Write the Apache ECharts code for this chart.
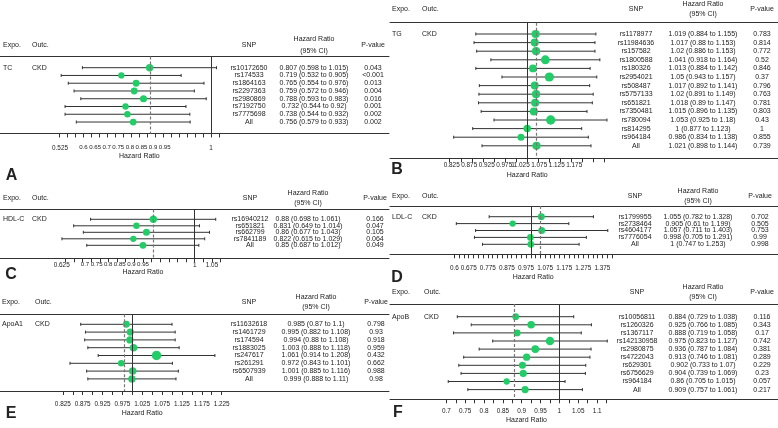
<!DOCTYPE html>
<html><head><meta charset="utf-8">
<script src="https://cdn.jsdelivr.net/npm/echarts@6/dist/echarts.min.js"></script>
<style>html,body{margin:0;padding:0;background:#fff}#c{width:778px;height:428px}</style>
</head><body><div id="c"></div>
<script>
// ---------------- DATA ----------------
const expoA = "TC", outcA = "CKD";
const snpA = ["rs10172650","rs174533","rs1864163","rs2297363","rs2980869","rs7192750","rs7775698","All"];
const hrA = [0.807,0.719,0.765,0.759,0.788,0.732,0.738,0.756];
const loA = [0.598,0.532,0.554,0.572,0.593,0.544,0.544,0.579];
const hiA = [1.015,0.905,0.976,0.946,0.983,0.92,0.932,0.933];
const pA = ["0.043","<0.001","0.013","0.004","0.016","0.001","0.002","0.002"];
const ticksA = ["0.525","0.6","0.65","0.7","0.75","0.8","0.85","0.9","0.95","1"];

const expoB = "TG", outcB = "CKD";
const snpB = ["rs1178977","rs11984636","rs157582","rs1800588","rs180326","rs2954021","rs508487","rs5757133","rs651821","rs7350481","rs780094","rs814295","rs964184","All"];
const hrB = [1.019,1.017,1.02,1.041,1.013,1.05,1.017,1.02,1.018,1.015,1.053,1,0.986,1.021];
const loB = [0.884,0.88,0.886,0.918,0.884,0.943,0.892,0.891,0.89,0.896,0.925,0.877,0.834,0.898];
const hiB = [1.155,1.153,1.153,1.164,1.142,1.157,1.141,1.149,1.147,1.135,1.18,1.123,1.138,1.144];
const pB = ["0.783","0.814","0.772","0.52","0.846","0.37","0.796","0.763","0.781","0.803","0.43","1","0.855","0.739"];
const ticksB = ["0.825","0.875","0.925","0.975","1","1.025","1.075","1.125","1.175"];

const expoC = "HDL-C", outcC = "CKD";
const snpC = ["rs16940212","rs651821","rs662799","rs7841189","All"];
const hrC = [0.88,0.831,0.86,0.822,0.85];
const loC = [0.698,0.649,0.677,0.615,0.687];
const hiC = [1.061,1.014,1.043,1.029,1.012];
const pC = ["0.166","0.047","0.105","0.064","0.049"];
const ticksC = ["0.625","0.7","0.75","0.8","0.85","0.9","0.95","1","1.05"];

const expoD = "LDL-C", outcD = "CKD";
const snpD = ["rs1799955","rs2738464","rs4604177","rs7776054","All"];
const hrD = [1.055,0.905,1.057,0.998,1];
const loD = [0.782,0.61,0.711,0.705,0.747];
const hiD = [1.328,1.199,1.403,1.291,1.253];
const pD = ["0.702","0.505","0.753","0.99","0.998"];
const ticksD = ["0.6","0.675","0.775","0.875","0.975","1.075","1.175","1.275","1.375"];

const expoE = "ApoA1", outcE = "CKD";
const snpE = ["rs11632618","rs1461729","rs174594","rs1883025","rs247617","rs261291","rs6507939","All"];
const hrE = [0.985,0.995,0.994,1.003,1.061,0.972,1.001,0.999];
const loE = [0.87,0.882,0.88,0.888,0.914,0.843,0.885,0.888];
const hiE = [1.1,1.108,1.108,1.118,1.208,1.101,1.116,1.11];
const pE = ["0.798","0.93","0.918","0.959","0.432","0.662","0.988","0.98"];
const ticksE = ["0.825","0.875","0.925","0.975","1.025","1.075","1.125","1.175","1.225"];

const expoF = "ApoB", outcF = "CKD";
const snpF = ["rs10056811","rs1260326","rs1367117","rs142130958","rs2980875","rs4722043","rs629301","rs6756629","rs964184","All"];
const hrF = [0.884,0.925,0.888,0.975,0.936,0.913,0.902,0.904,0.86,0.909];
const loF = [0.729,0.766,0.719,0.823,0.787,0.746,0.733,0.739,0.705,0.757];
const hiF = [1.038,1.085,1.058,1.127,1.084,1.081,1.07,1.069,1.015,1.061];
const pF = ["0.116","0.343","0.17","0.742","0.381","0.289","0.229","0.23","0.057","0.217"];
const ticksF = ["0.7","0.75","0.8","0.85","0.9","0.95","1","1.05","1.1"];

// ---------------- LAYOUT ----------------
const FONT = '"Liberation Sans", Arial, sans-serif';
const TXT = '#222';
const GREEN = '#22cc66';
const layouts = [
 {key:'A', expo:expoA, outc:outcA, snp:snpA, hr:hrA, lo:loA, hi:hiA, p:pA, ticks:ticksA,
  labelPx:[60,83.5,95.1,106.7,118.3,129.9,141.5,153.1,164.7,211], small:[1,2,3,4,5,6,7,8],
  left:0, width:389, top:56.5, bottom:133.5, row0:67.7, step:7.76, onePx:211.7, scale:321.6,
  tMin:0.525, tMax:1.025, labelY:148, titleY:156.5, letter:[11.5,175.5],
  cols:{expo:3,outc:32,snp:249,hr:314,p:373}, head:{hr:39.3,ci:50.7,mid:45}, size:[6.3,7.4]},
 {key:'B', expo:expoB, outc:outcB, snp:snpB, hr:hrB, lo:loB, hi:hiB, p:pB, ticks:ticksB,
  labelPx:[451.7,469.2,486.7,504.2,513,521.7,539.2,556.7,574.2], small:[],
  left:390, width:388, top:22.7, bottom:158.3, row0:34, step:8.6, onePx:527.2, scale:443,
  tMin:0.825, tMax:1.175, labelY:165.5, titleY:175, letter:[397,170],
  cols:{expo:392,outc:422,snp:636,hr:703,p:762}, head:{hr:4.5,ci:14.5,mid:9.5}, size:[7,9.3]},
 {key:'C', expo:expoC, outc:outcC, snp:snpC, hr:hrC, lo:loC, hi:hiC, p:pC, ticks:ticksC,
  labelPx:[61.7,85,96.6,108.2,119.8,131.4,143,194.7,212], small:[1,2,3,4,5,6],
  left:0, width:389, top:209.5, bottom:258.3, row0:219.3, step:6.5, onePx:194.7, scale:344.8,
  tMin:0.625, tMax:1.075, labelY:265, titleY:272, letter:[11,275],
  cols:{expo:3,outc:32,snp:250,hr:308,p:375}, head:{hr:192.7,ci:203.3,mid:198}, size:[6.3,7.4]},
 {key:'D', expo:expoD, outc:outcD, snp:snpD, hr:hrD, lo:loD, hi:hiD, p:pD, ticks:ticksD,
  labelPx:null, small:[],
  left:390, width:388, top:206, bottom:254.3, row0:216.7, step:6.9, onePx:530.8, scale:191,
  tMin:0.6, tMax:1.425, labelY:268, titleY:276.7, letter:[397,278],
  cols:{expo:392,outc:422,snp:635,hr:698,p:760}, head:{hr:190.7,ci:201,mid:196.5}, size:[6.3,7]},
 {key:'E', expo:expoE, outc:outcE, snp:snpE, hr:hrE, lo:loE, hi:hiE, p:pE, ticks:ticksE,
  labelPx:null, small:[],
  left:0, width:389, top:314.3, bottom:391, row0:324.3, step:7.8, onePx:132.3, scale:397,
  tMin:0.825, tMax:1.225, labelY:404, titleY:412.7, letter:[11,414],
  cols:{expo:2,outc:35,snp:249,hr:316,p:376}, head:{hr:296.7,ci:306.7,mid:301.7}, size:[6.5,9.5]},
 {key:'F', expo:expoF, outc:outcF, snp:snpF, hr:hrF, lo:loF, hi:hiF, p:pF, ticks:ticksF,
  labelPx:null, small:[],
  left:390, width:388, top:304, bottom:399.3, row0:316.7, step:8.1, onePx:559.4, scale:376.8,
  tMin:0.7, tMax:1.125, labelY:411, titleY:420, letter:[398,413],
  cols:{expo:392,outc:424,snp:637,hr:703,p:762}, head:{hr:286.7,ci:296.7,mid:292.5}, size:[6.3,8.5]}
];

function gtext(x, y, s, size, align, weight) {
  return {type:'text', x:x, y:y, silent:true, z:100,
    style:{text:s, font:(weight||'normal')+' '+size+'px '+FONT, fill:TXT,
      align:align||'center', verticalAlign:'middle', textAlign:align||'center', textVerticalAlign:'middle'}};
}

const grids = [], xAxes = [], yAxes = [], series = [], graphics = [];
layouts.forEach(function (L, k) {
  const n = L.snp.length;
  const px2v = function (px) { return 1 + (px - L.onePx) / L.scale; };
  grids.push({left:L.left, top:L.top, width:L.width, height:L.bottom - L.top, containLabel:false});
  const tickVals = [];
  for (let v = L.tMin; v <= L.tMax + 1e-9; v += 0.025) tickVals.push(Math.round(v * 1000) / 1000);
  const labelVals = L.ticks.map(function (t, i) { return L.labelPx ? px2v(L.labelPx[i]) : parseFloat(t); });
  const fs = 6.4;
  const xmin = px2v(L.left), xmax = px2v(L.left + L.width);
  xAxes.push({type:'value', gridIndex:k, min:xmin, max:xmax, position:'bottom',
    axisLine:{show:true, onZero:false, lineStyle:{color:'#333', width:1}},
    axisTick:{show:true, length:4, lineStyle:{color:'#333', width:1}, customValues:tickVals},
    axisLabel:{show:true, customValues:labelVals, color:TXT, fontFamily:FONT, fontSize:fs,
      margin:L.labelY - L.bottom - fs / 2, hideOverlap:false,
      rich:{n:{fontSize:fs, fontFamily:FONT, color:TXT}, s:{fontSize:6.1, fontFamily:FONT, color:TXT}},
      formatter:function (v) {
        let bi = 0, bd = Infinity;
        labelVals.forEach(function (lv, i) { const d = Math.abs(lv - v); if (d < bd) { bd = d; bi = i; } });
        return (L.small.indexOf(bi) >= 0 ? '{s|' : '{n|') + L.ticks[bi] + '}';
      }},
    splitLine:{show:false}});
  xAxes.push({type:'value', gridIndex:k, min:xmin, max:xmax, position:'top',
    axisLine:{show:true, onZero:false, lineStyle:{color:'#333', width:1}},
    axisTick:{show:false}, axisLabel:{show:false}, splitLine:{show:false}});
  const ymin = -(L.row0 - L.top) / L.step;
  const ymax = (n - 1) + (L.bottom - (L.row0 + (n - 1) * L.step)) / L.step;
  yAxes.push({type:'value', gridIndex:k, inverse:true, min:ymin, max:ymax, show:false});

  const xi = 2 * k, yi = k;
  series.push({type:'custom', xAxisIndex:xi, yAxisIndex:yi, clip:false, z:2, silent:true,
    data:L.lo.map(function (lo, i) { return [lo, L.hi[i], i]; }),
    encode:{x:[0,1], y:2},
    renderItem:function (params, api) {
      const a = api.coord([api.value(0), api.value(2)]);
      const b = api.coord([api.value(1), api.value(2)]);
      const st = {stroke:'#333', lineWidth:1};
      return {type:'group', children:[
        {type:'line', shape:{x1:a[0], y1:a[1], x2:b[0], y2:b[1]}, style:st},
        {type:'line', shape:{x1:a[0], y1:a[1]-1.5, x2:a[0], y2:a[1]+1.5}, style:st},
        {type:'line', shape:{x1:b[0], y1:b[1]-1.5, x2:b[0], y2:b[1]+1.5}, style:st}
      ]};
    }});
  const hmin = Math.min.apply(null, L.hr), hmax = Math.max.apply(null, L.hr);
  series.push({type:'scatter', xAxisIndex:xi, yAxisIndex:yi, clip:false, z:3, silent:true,
    data:L.hr.map(function (h, i) { return [h, i]; }),
    symbol:'circle',
    symbolSize:function (v) { return L.size[0] + (L.size[1] - L.size[0]) * (v[0] - hmin) / (hmax - hmin); },
    itemStyle:{color:GREEN, opacity:1},
    markLine:{silent:true, symbol:['none','none'], label:{show:false}, animation:false,
      data:[
        {xAxis:1, lineStyle:{color:'#333', width:1, type:'solid'}},
        {xAxis:L.hr[0], lineStyle:{color:'#777', width:1.2, type:[3,2]}}
      ]}});
  series.push({type:'custom', xAxisIndex:xi, yAxisIndex:yi, clip:false, z:5, silent:true,
    data:L.hr.map(function (h, i) { return [h, i]; }),
    encode:{x:0, y:1},
    renderItem:function (params, api) {
      const i = api.value(1);
      const y = api.coord([api.value(0), i])[1];
      const mk = function (x, s, align) {
        return {type:'text', x:x, y:y, style:{text:s, font:'7px ' + FONT, fill:TXT,
          align:align, verticalAlign:'middle', textAlign:align, textVerticalAlign:'middle'}};
      };
      const ch = [
        mk(L.cols.snp, L.snp[i], 'center'),
        mk(L.cols.hr, L.hr[i] + ' (' + L.lo[i] + ' to ' + L.hi[i] + ')', 'center'),
        mk(L.cols.p, L.p[i], 'center')
      ];
      if (i === 0) { ch.push(mk(L.cols.expo, L.expo, 'left')); ch.push(mk(L.cols.outc, L.outc, 'left')); }
      return {type:'group', children:ch};
    }});
  graphics.push(gtext(L.cols.expo, L.head.mid, 'Expo.', 7, 'left'));
  graphics.push(gtext(L.cols.outc, L.head.mid, 'Outc.', 7, 'left'));
  graphics.push(gtext(L.cols.snp, L.head.mid, 'SNP', 7, 'center'));
  graphics.push(gtext(L.cols.hr, L.head.hr, 'Hazard Ratio', 7, 'center'));
  graphics.push(gtext(L.cols.hr, L.head.ci, '(95% CI)', 7, 'center'));
  graphics.push(gtext(L.cols.p, L.head.mid, 'P-value', 7, 'center'));
  const tc = L.onePx + ((L.tMin + L.tMax) / 2 - 1) * L.scale;
  graphics.push(gtext(tc, L.titleY, 'Hazard Ratio', 7, 'center'));
  graphics.push(gtext(L.letter[0], L.letter[1], L.key, 16, 'center', 'bold'));
});

const chart = echarts.init(document.getElementById('c'), null, {renderer:'canvas'});
chart.setOption({
  animation:false,
  backgroundColor:'#fff',
  grid:grids, xAxis:xAxes, yAxis:yAxes, series:series, graphic:graphics
});
</script>
</body></html>
